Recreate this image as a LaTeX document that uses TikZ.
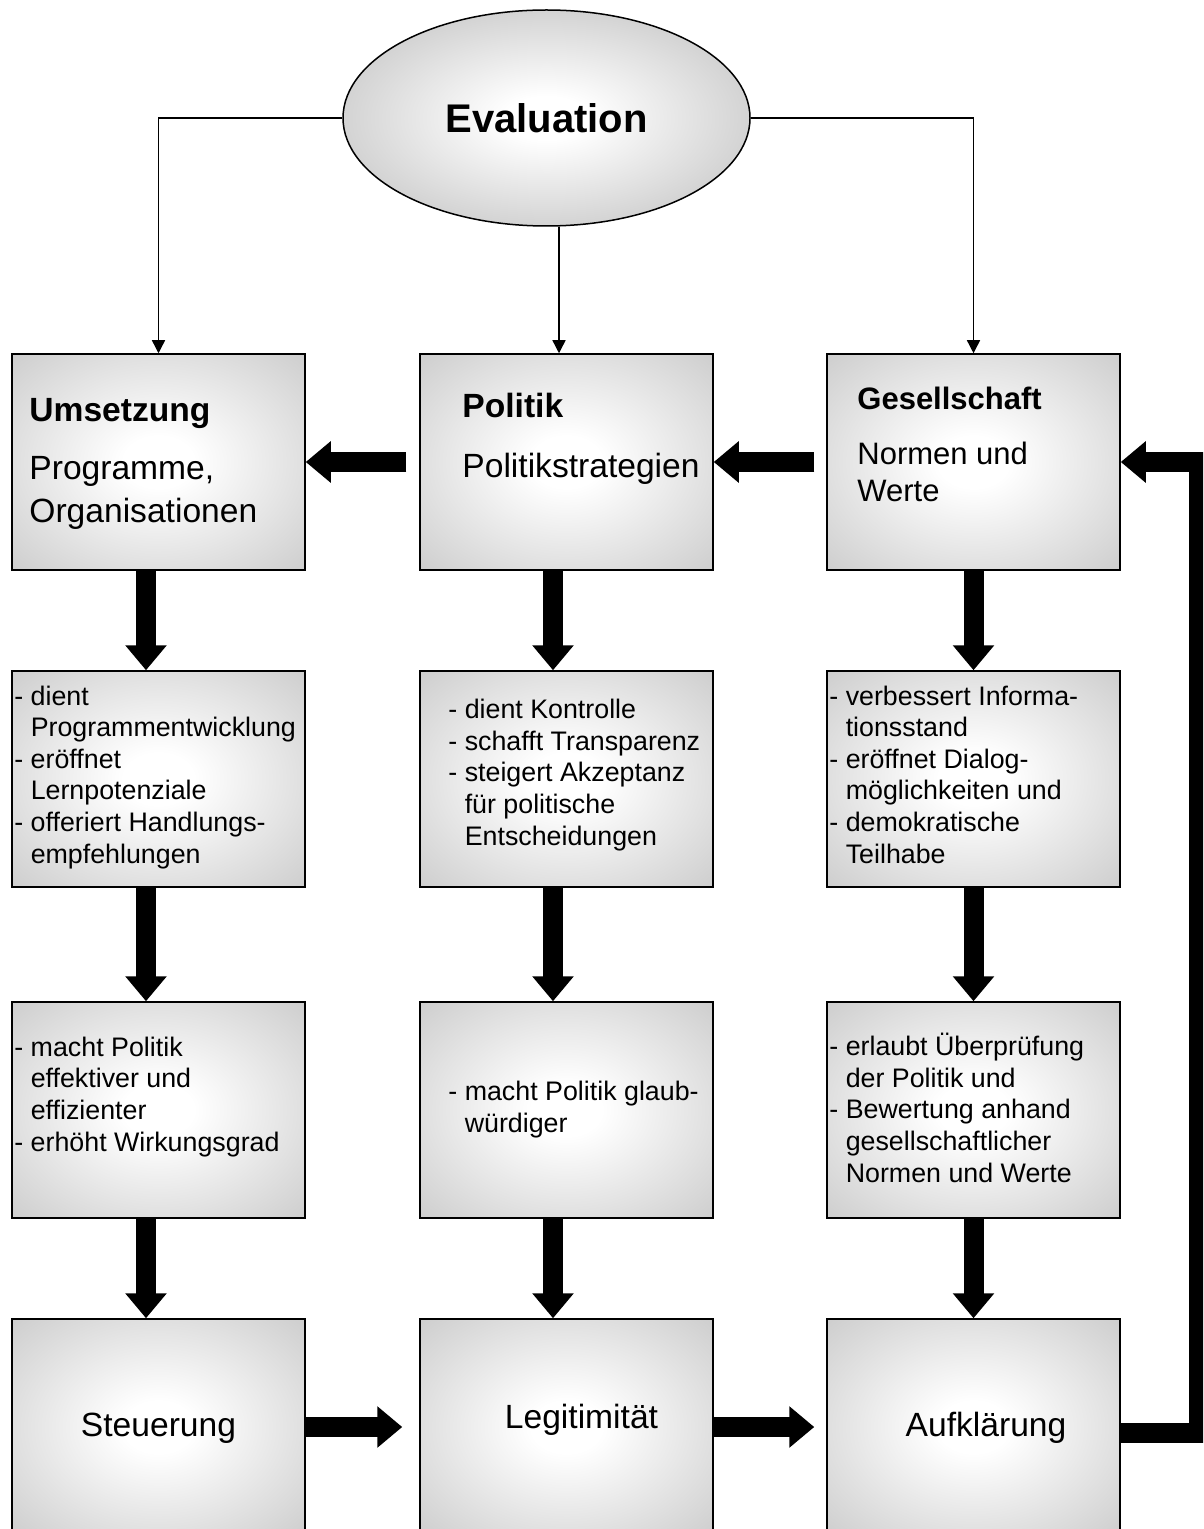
\documentclass[tikz,border=0pt]{standalone}
\usepackage{fontspec}
\setmainfont{Liberation Sans}
\usetikzlibrary{arrows.meta,shapes.geometric}

\pgfdeclareradialshading{boxglow}{\pgfpoint{0bp}{0bp}}{color(0bp)=(white); color(6bp)=(white); color(44bp)=(gray!50); color(80bp)=(gray!50)}
\pgfdeclareradialshading{ovalglow}{\pgfpoint{0bp}{0bp}}{color(0bp)=(white); color(5bp)=(white); color(34bp)=(gray!50); color(80bp)=(gray!50)}

\newcommand{\ind}{\phantom{- }}

\tikzset{
	box/.style={draw, line width=0.75pt, shading=boxglow, minimum width=146.5pt, minimum height=108pt, inner sep=0pt},
	headtext/.style={inner sep=0pt, anchor=base west, font=\fontsize{16.8}{21}\selectfont\bfseries},
	bigtext/.style={inner sep=0pt, anchor=base west, align=left, font=\fontsize{16.8}{21}\selectfont},
	midtext/.style={inner sep=0pt, anchor=base west, align=left, font=\fontsize{15.5}{18.5}\selectfont},
	bodytext/.style={inner sep=0pt, anchor=base west, align=left, font=\fontsize{13.4}{15.8}\selectfont},
	fatarrow/.style={line width=10pt, -{Triangle[length=12.5pt, width=20pt]}},
	thinarrow/.style={line width=0.7pt, -{Triangle[length=6.5pt, width=6.5pt]}}
}

\begin{document}
\begin{tikzpicture}[x=0.5pt, y=-0.5pt]
	\useasboundingbox (0,0) rectangle (1203,1529);
	\clip (0,0) rectangle (1203,1529);

	% top
	\node[ellipse, draw, line width=0.75pt, shading=ovalglow, minimum width=203.5pt, minimum height=108pt, inner sep=0pt,
		font=\fontsize{20}{24}\selectfont\bfseries] (evl) at (546.5,118) {Evaluation};
	\coordinate (m) at (559,0);

	% boxes
	\node[box] (u1) at (158.5,462) {};
	\node[box] (p1) at (566.5,462) {};
	\node[box] (g1) at (973.5,462) {};
	\node[box] (u2) at (158.5,779) {};
	\node[box] (p2) at (566.5,779) {};
	\node[box] (g2) at (973.5,779) {};
	\node[box] (u3) at (158.5,1110) {};
	\node[box] (p3) at (566.5,1110) {};
	\node[box] (g3) at (973.5,1110) {};
	\node[box] (u4) at (158.5,1427) {};
	\node[box] (p4) at (566.5,1427) {};
	\node[box] (g4) at (973.5,1427) {};

	% texts (multi-line nodes sit on the base of their last line)
	\node[headtext] (u1h) at (29,422) {Umsetzung};
	\node[bigtext] (u1t) at (29,522) {Programme,\\Organisationen};
	\node[headtext] (p1h) at (462,417) {Politik};
	\node[bigtext] (p1t) at (462,477) {Politikstrategien};
	\node[midtext, font=\fontsize{15.5}{18.5}\selectfont\bfseries] (g1h) at (857,410) {Gesellschaft};
	\node[midtext] (g1t) at (857,502) {Normen und\\Werte};

	\node[bodytext] (u2t) at (14,863) {- dient\\\ind Programmentwicklung\\- eröffnet\\\ind Lernpotenziale\\- offeriert Handlungs-\\\ind empfehlungen};
	\node[bodytext] (p2t) at (448,845) {- dient Kontrolle\\- schafft Transparenz\\- steigert Akzeptanz\\\ind für politische\\\ind Entscheidungen};
	\node[bodytext] (g2t) at (829,863) {- verbessert Informa-\\\ind tionsstand\\- eröffnet Dialog-\\\ind möglichkeiten und\\- demokratische\\\ind Teilhabe};

	\node[bodytext] (u3t) at (14,1151) {- macht Politik\\\ind effektiver und\\\ind effizienter\\- erhöht Wirkungsgrad};
	\node[bodytext] (p3t) at (448,1132) {- macht Politik glaub-\\\ind würdiger};
	\node[bodytext] (g3t) at (829,1182) {- erlaubt Überprüfung\\\ind der Politik und\\- Bewertung anhand\\\ind gesellschaftlicher\\\ind Normen und Werte};

	\node[bigtext, anchor=base] (u4t) at (158.5,1436) {Steuerung};
	\node[bigtext, anchor=base] (p4t) at (581.5,1428) {Legitimität};
	\node[bigtext, anchor=base] (g4t) at (986,1436) {Aufklärung};

	% thin connectors
	\draw[thinarrow] (evl.west) -| (u1.north);
	\draw[thinarrow] (evl.south -| m) -- (p1.north -| m);
	\draw[thinarrow] (evl.east) -| (g1.north);

	% fat arrows
	\draw[fatarrow] ([xshift=-6.5pt]p1.west) -- (u1.east);
	\draw[fatarrow] ([xshift=-6pt]g1.west) -- (p1.east);
	\draw[fatarrow] (u4.east) -- ([xshift=-8.5pt]p4.west);
	\draw[fatarrow] (p4.east) -- ([xshift=-6pt]g4.west);
	\draw[fatarrow] ([yshift=-3pt]g4.east) -- ++(78,0) |- (g1.east);

	\draw[fatarrow] ([xshift=-6.25pt]u1.south) -- ([xshift=-6.25pt]u2.north);
	\draw[fatarrow] ([xshift=-6.25pt]u2.south) -- ([xshift=-6.25pt]u3.north);
	\draw[fatarrow] ([xshift=-6.25pt]u3.south) -- ([xshift=-6.25pt]u4.north);
	\draw[fatarrow] ([xshift=-6.75pt]p1.south) -- ([xshift=-6.75pt]p2.north);
	\draw[fatarrow] ([xshift=-6.75pt]p2.south) -- ([xshift=-6.75pt]p3.north);
	\draw[fatarrow] ([xshift=-6.75pt]p3.south) -- ([xshift=-6.75pt]p4.north);
	\draw[fatarrow] (g1.south) -- (g2.north);
	\draw[fatarrow] (g2.south) -- (g3.north);
	\draw[fatarrow] (g3.south) -- (g4.north);
\end{tikzpicture}
\end{document}
